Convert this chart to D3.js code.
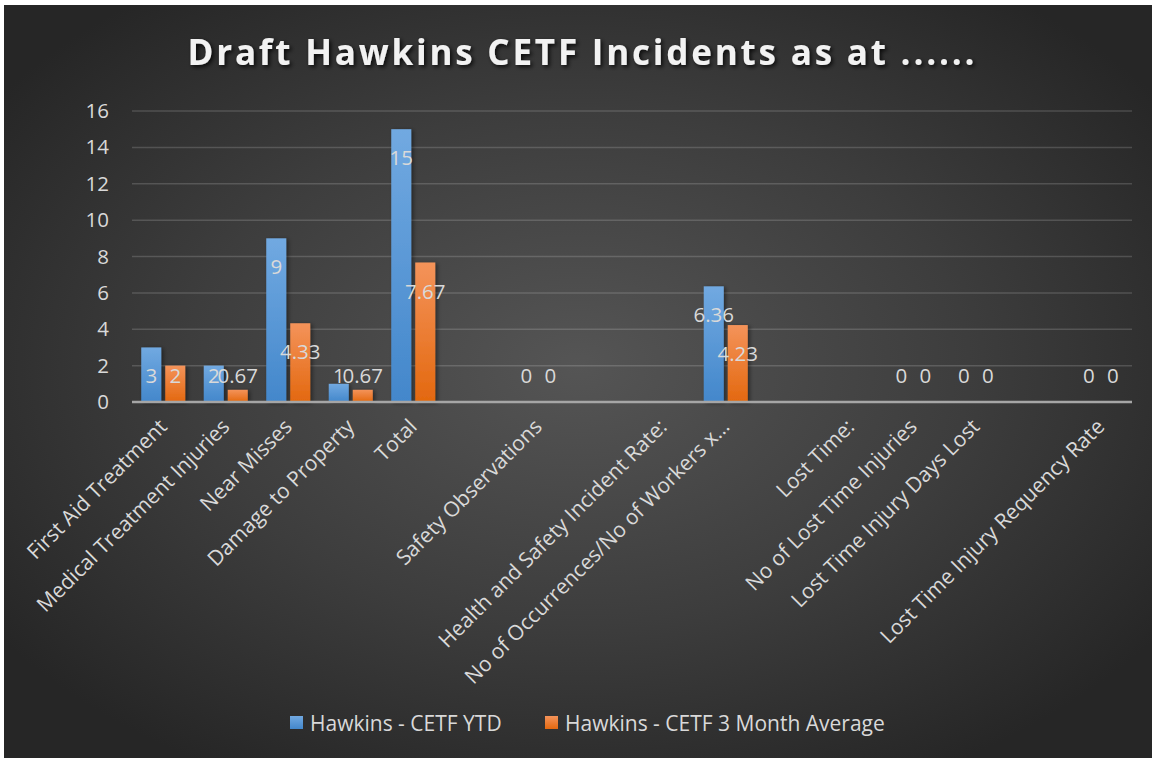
<!DOCTYPE html>
<html>
<head>
<meta charset="utf-8">
<script src="https://cdn.jsdelivr.net/npm/d3@7"></script>
<style>
  html, body { margin: 0; padding: 0; background: #ffffff; }
  svg { display: block; }
  text { font-family: "Open Sans", "Noto Sans", sans-serif; }
</style>
</head>
<body>
<svg id="chart" width="1152" height="758"></svg>
<script>
// ---- Data ----
const categories = [
  "First Aid Treatment",
  "Medical Treatment Injuries",
  "Near Misses",
  "Damage to Property",
  "Total",
  "",
  "Safety Observations",
  "",
  "Health and Safety Incident Rate:",
  "No of Occurrences/No of Workers x…",
  "",
  "Lost Time:",
  "No of Lost Time Injuries",
  "Lost Time Injury Days Lost",
  "",
  "Lost Time Injury Requency Rate"
];
const seriesNames = ["Hawkins - CETF YTD", "Hawkins - CETF 3 Month Average"];
const ytdValues = [3, 2, 9, 1, 15, null, 0, null, null, 6.36, null, null, 0, 0, null, 0];
const avgValues = [2, 0.67, 4.33, 0.67, 7.67, null, 0, null, null, 4.23, null, null, 0, 0, null, 0];
const yTicks = [0, 2, 4, 6, 8, 10, 12, 14, 16];
const titleText = "Draft Hawkins CETF Incidents as at ......";

// ---- Layout ----
const W = 1152, H = 758;
const plot = { left: 132, right: 1132, top: 111, bottom: 402 };
const svg = d3.select("#chart");
const defs = svg.append("defs");

// background gradient
const bg = defs.append("radialGradient").attr("id", "bgGrad")
  .attr("cx", "50%").attr("cy", "48%").attr("r", "62%");
bg.append("stop").attr("offset", "0%").attr("stop-color", "#555555");
bg.append("stop").attr("offset", "55%").attr("stop-color", "#3d3d3d");
bg.append("stop").attr("offset", "100%").attr("stop-color", "#262626");

const colors = [
  { id: "gBlue", top: "#71a9e1", bottom: "#4387cb" },
  { id: "gOrange", top: "#f4935a", bottom: "#e3680f" }
];
colors.forEach(c => {
  const g = defs.append("linearGradient").attr("id", c.id)
    .attr("x1", 0).attr("y1", 0).attr("x2", 0).attr("y2", 1);
  g.append("stop").attr("offset", "0%").attr("stop-color", c.top);
  g.append("stop").attr("offset", "100%").attr("stop-color", c.bottom);
});
const sh = defs.append("filter").attr("id", "barShadow")
  .attr("x", "-30%").attr("y", "-10%").attr("width", "160%").attr("height", "120%");
sh.append("feDropShadow").attr("dx", 2).attr("dy", 1).attr("stdDeviation", 2)
  .attr("flood-color", "#000").attr("flood-opacity", 0.45);
const tsh = defs.append("filter").attr("id", "titleShadow")
  .attr("x", "-10%").attr("y", "-30%").attr("width", "120%").attr("height", "160%");
tsh.append("feDropShadow").attr("dx", 2).attr("dy", 2).attr("stdDeviation", 2)
  .attr("flood-color", "#000").attr("flood-opacity", 0.8);

svg.append("rect").attr("x", 4).attr("y", 5).attr("width", W - 4).attr("height", H - 5)
  .attr("fill", "url(#bgGrad)");

// ---- Scales ----
const x0 = d3.scaleBand().domain(d3.range(categories.length))
  .range([plot.left, plot.right]).paddingInner(0.296).paddingOuter(0.148);
const x1 = d3.scaleBand().domain([0, 1]).range([0, x0.bandwidth()]).paddingInner(1 / 6);
const y = d3.scaleLinear().domain([0, 16]).range([plot.bottom, plot.top]);

// gridlines
svg.append("g").selectAll("line").data(yTicks.filter(t => t > 0)).join("line")
  .attr("x1", plot.left).attr("x2", plot.right)
  .attr("y1", d => y(d)).attr("y2", d => y(d))
  .attr("stroke", "#ffffff").attr("stroke-opacity", 0.16).attr("stroke-width", 1.5);

// y axis labels
const yAxis = d3.axisLeft(y).tickValues(yTicks).tickSize(0).tickPadding(0);
const yg = svg.append("g").attr("transform", `translate(${109},0)`).call(yAxis);
yg.select(".domain").remove();
yg.selectAll("text").attr("font-size", 20.5).attr("fill", "#d9d9d9")
  .style("font-family", '"Open Sans", sans-serif');

// bars
const series = [ytdValues, avgValues];
const barG = svg.append("g");
series.forEach((vals, si) => {
  barG.append("g").selectAll("rect")
    .data(vals.map((v, i) => ({ v, i })).filter(d => d.v !== null && d.v > 0))
    .join("rect")
    .attr("x", d => x0(d.i) + x1(si))
    .attr("width", x1.bandwidth())
    .attr("y", d => y(d.v))
    .attr("height", d => y(0) - y(d.v))
    .attr("fill", `url(#${colors[si].id})`)
    .attr("filter", "url(#barShadow)");
});

// x axis line
svg.append("line").attr("x1", plot.left).attr("x2", plot.right)
  .attr("y1", y(0)).attr("y2", y(0))
  .attr("stroke", "#a6a6a6").attr("stroke-width", 2.5);

// data labels
const fmt = v => (Math.round(v * 100) / 100).toString();
series.forEach((vals, si) => {
  svg.append("g").selectAll("text")
    .data(vals.map((v, i) => ({ v, i })).filter(d => d.v !== null))
    .join("text")
    .attr("x", d => x0(d.i) + x1(si) + x1.bandwidth() / 2)
    .attr("y", d => Math.min(y(d.v) + 28, y(0) - 27))
    .attr("text-anchor", "middle")
    .attr("dominant-baseline", "central")
    .attr("font-size", 20.5)
    .attr("fill", "#d9d9d9")
    .text(d => fmt(d.v));
});

// category labels
const xAxis = d3.axisBottom(x0).tickFormat(i => categories[i]).tickSize(0).tickPadding(0);
const xg = svg.append("g").attr("transform", `translate(0,${y(0)})`).call(xAxis);
xg.select(".domain").remove();
xg.selectAll(".tick text")
  .attr("font-size", 21)
  .attr("fill", "#d9d9d9")
  .style("font-family", '"Open Sans", sans-serif')
  .attr("text-anchor", "end")
  .attr("dy", 0)
  .attr("y", 0)
  .attr("transform", "translate(5,26) rotate(-45)");

// title
const title = svg.append("text")
  .attr("x", 581).attr("y", 65)
  .attr("text-anchor", "middle")
  .attr("font-size", 35)
  .attr("font-weight", "bold")
  .attr("fill", "#f2f2f2")
  .attr("filter", "url(#titleShadow)")
  .text(titleText);
title.attr("textLength", 787).attr("lengthAdjust", "spacing");

// legend
const legendItems = [
  { name: seriesNames[0], sq: 290, tx: 310, c: colors[0] },
  { name: seriesNames[1], sq: 545, tx: 565, c: colors[1] }
];
const lg = svg.append("g");
legendItems.forEach(it => {
  lg.append("rect").attr("x", it.sq).attr("y", 716).attr("width", 13).attr("height", 13)
    .attr("fill", `url(#${it.c.id})`);
  lg.append("text").attr("x", it.tx).attr("y", 723)
    .attr("dominant-baseline", "central")
    .attr("font-size", 21).attr("fill", "#d9d9d9")
    .text(it.name);
});
</script>
</body>
</html>
